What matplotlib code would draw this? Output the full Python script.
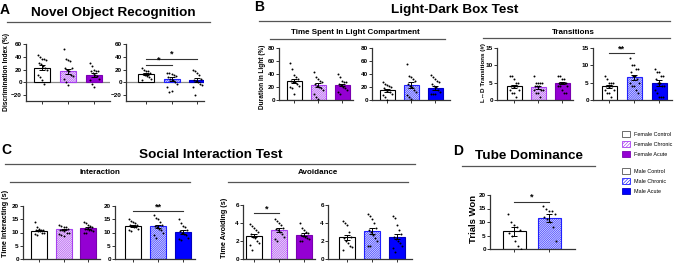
import numpy as np
import matplotlib
matplotlib.use("Agg")
import matplotlib.pyplot as plt
from matplotlib.patches import Patch
from matplotlib.lines import Line2D

plt.rcParams['font.family'] = ['Liberation Sans', 'DejaVu Sans']
plt.rcParams['hatch.linewidth'] = 0.45

W, H = 676, 264
HATCH = '/' * 18

# group styles
female_styles = [('white', 'black', None), ('white', '#a83ff0', HATCH), ('#9400d3', '#7a00b0', None)]
male_styles = [('white', 'black', None), ('white', '#2020ff', HATCH), ('#0000ff', '#0000c0', None)]
female_labels = ['Female Control', 'Female Chronic', 'Female Acute']
male_labels = ['Male Control', 'Male Chronic', 'Male Acute']

# A - Novel Object Recognition (discrimination index, %)
nor_f_mean = [23, 17, 11]
nor_f_sem = [4, 4, 3]
nor_f_pts = [[43, 40, 37, 36, 35, 30, 28, 25, 22, 20, 12, 8, 3, -3],
             [52, 37, 35, 33, 22, 22, 20, 18, 12, 10, 5, 0, -5],
             [30, 25, 20, 18, 18, 17, 15, 12, 10, 5, 3, -3, -8]]
nor_m_mean = [13, 5, 3]
nor_m_sem = [2, 3, 3]
nor_m_pts = [[22, 20, 18, 17, 15, 13, 12, 10, 8, 5, 4],
             [15, 14, 13, 12, 10, 8, 5, 3, 0, -3, -8, -15, -13],
             [20, 17, 15, 12, 5, 3, 2, 0, -2, -5, -8, -20]]

# B - Light-Dark box, duration in light (%)
ldb_f_mean = [29, 23, 23]
ldb_f_sem = [3, 3, 2]
ldb_f_pts = [[57, 47, 38, 35, 33, 30, 28, 27, 25, 22, 20, 18, 10],
             [43, 35, 33, 30, 28, 25, 22, 20, 18, 15, 10, 5, 2],
             [40, 35, 30, 28, 27, 25, 23, 20, 18, 15, 12, 10]]
ldb_m_mean = [15, 23, 19]
ldb_m_sem = [2, 4, 3]
ldb_m_pts = [[27, 25, 23, 22, 20, 18, 16, 15, 13, 10, 8, 5, 0],
             [55, 37, 35, 33, 30, 25, 22, 20, 15, 12, 8, 5, 2],
             [38, 35, 32, 30, 27, 25, 22, 20, 15, 13, 10, 10, 10]]

# B - Light-Dark box, transitions (#)
tr_f_mean = [3.9, 3.7, 4.9]
tr_f_sem = [0.5, 0.4, 0.4]
tr_f_pts = [[7, 7, 6, 5, 5, 4, 4, 4, 4, 3, 3, 2, 2, 1],
            [7, 5, 5, 5, 5, 4, 4, 4, 3, 3, 3, 2, 2, 1],
            [7, 7, 6, 6, 5, 5, 5, 5, 5, 4, 4, 4, 3, 2, 2]]
tr_m_mean = [3.9, 6.6, 4.9]
tr_m_sem = [0.5, 0.7, 0.8]
tr_m_pts = [[7, 6, 5, 5, 5, 4, 4, 4, 4, 3, 3, 2, 2, 1],
            [12, 10, 10, 9, 9, 8, 7, 7, 6, 5, 5, 4, 4, 3, 2],
            [9, 8, 8, 7, 7, 6, 5, 5, 4, 4, 3, 2, 1, 1, 1]]

# C - Social interaction, time interacting (s)
int_f_mean = [10.7, 11.2, 11.6]
int_f_sem = [0.3, 0.3, 0.3]
int_f_pts = [[14, 12, 11.5, 11, 11, 10.8, 10.5, 10.5, 10, 10, 9.5, 9],
             [13, 12.5, 12, 12, 11.5, 11, 11, 10.5, 10, 10, 9.5, 9, 8.5],
             [14, 13.5, 13, 12.5, 12, 11.5, 11.5, 11, 11, 10.5, 10, 10]]
int_m_mean = [12.6, 12.3, 10.2]
int_m_sem = [0.4, 0.6, 0.6]
int_m_pts = [[15, 14.5, 14, 13.5, 13, 13, 12.5, 12, 12, 11.5, 11, 10.5],
             [16.5, 15.5, 15, 14, 13, 12.5, 12, 11.5, 11, 10, 9, 8],
             [15, 13.5, 12.5, 12, 11, 10.5, 10, 9.5, 9, 8, 7.5, 7]]

# C - Social interaction, time avoiding (s)
av_f_mean = [2.6, 3.2, 2.7]
av_f_sem = [0.2, 0.2, 0.15]
av_f_pts = [[3.9, 3.7, 3.5, 3.2, 3.0, 2.8, 2.5, 2.3, 2.0, 1.8, 1.6, 1.0],
            [4.5, 4.2, 4.0, 3.8, 3.5, 3.3, 3.2, 3.0, 2.8, 2.5, 2.2, 2.0],
            [4.0, 3.5, 3.2, 3.0, 2.9, 2.7, 2.6, 2.5, 2.3, 2.2, 2.0, 2.0]]
av_m_mean = [2.4, 3.1, 2.5]
av_m_sem = [0.3, 0.3, 0.3]
av_m_pts = [[4.2, 4.0, 3.8, 3.0, 2.5, 2.3, 2.0, 1.8, 1.5, 1.3, 1.0],
            [5.0, 4.8, 4.5, 4.0, 3.5, 3.2, 3.0, 2.7, 2.3, 2.0, 1.5, 1.4],
            [4.8, 4.6, 3.8, 3.2, 2.8, 2.5, 2.2, 2.0, 1.8, 1.5, 1.2, 0.8]]

# D - Tube dominance, trials won
td_mean = [6.5, 11.5]
td_sem = [1.5, 1.6]
td_pts = [[13, 10, 9, 8, 7, 6, 5, 3, 1, 0],
          [16, 15, 14, 14, 13, 12, 11, 10, 8, 3]]

fig = plt.figure(figsize=(W / 100, H / 100), dpi=100)


def px_axes(left, right, top, bottom):
    return fig.add_axes([left / W, 1 - bottom / H, (right - left) / W, (bottom - top) / H])


def fig_text(x, y, s, **kw):
    fig.text(x / W, 1 - y / H, s, **kw)


def fig_line(x0, x1, y, color='#555555', lw=0.9):
    fig.add_artist(Line2D([x0 / W, x1 / W], [1 - y / H, 1 - y / H], color=color, lw=lw))


def bar_panel(box, first_bar, spacing, means, sems, pts, styles, ylim, yticks,
              bar_px=16, zero_line=False, sig=None):
    left, right, top, bottom = box
    ax = px_axes(left, right, top, bottom)
    n = len(means)
    x = np.arange(n)
    width = bar_px / spacing
    for i in range(n):
        fc, ec, hatch = styles[i]
        ax.bar(x[i], means[i], width=width, color=fc, edgecolor=ec, hatch=hatch,
               linewidth=0.8, zorder=2)
        ax.errorbar(x[i], means[i], yerr=sems[i], color='black', capsize=2.5,
                    elinewidth=0.7, capthick=0.7, zorder=4)
        vals = np.array(pts[i], dtype=float)
        k = np.arange(len(vals))
        offs = ((k % 5) - 2) * 0.085 + ((k // 5) % 2) * 0.04
        ax.scatter(x[i] + offs, vals, s=2.0, color='black', zorder=5, linewidths=0)
    if zero_line:
        ax.axhline(0, color='#888888', lw=0.9, zorder=1)
    ax.set_xlim(-(first_bar - left) / spacing, (right - first_bar) / spacing)
    ax.set_ylim(*ylim)
    ax.set_yticks(yticks)
    ax.set_xticks(x)
    ax.set_xticklabels([])
    for s in ['top', 'right']:
        ax.spines[s].set_visible(False)
    for s in ['left', 'bottom']:
        ax.spines[s].set_linewidth(0.9)
        ax.spines[s].set_color('#333333')
    ax.tick_params(axis='both', length=2, width=0.7, pad=1, labelsize=4.6, colors='#333333')
    for lab in ax.get_yticklabels():
        lab.set_fontweight('bold')
        lab.set_color('black')
    if sig:
        for (i0, i1, yv, txt) in sig:
            ax.plot([i0, i1], [yv, yv], color='#333333', lw=0.8, clip_on=False)
            ax.text((i0 + i1) / 2, yv, txt, ha='center', va='bottom', fontsize=6.5,
                    fontweight='bold')
    return ax


# ---- Panel A ----
fig_text(4.5, 10, 'A', fontsize=10, fontweight='bold', ha='center', va='center')
fig_text(113, 13, 'Novel Object Recognition', fontsize=9.7, fontweight='bold', ha='center', va='center')
fig_line(7, 210, 21.7)
bar_panel((26, 110, 44, 101.4), 42, 26, nor_f_mean, nor_f_sem, nor_f_pts, female_styles,
          (-30, 60), [-20, 0, 20, 40, 60], zero_line=True)
bar_panel((126, 204, 44, 101.4), 146, 25.5, nor_m_mean, nor_m_sem, nor_m_pts, male_styles,
          (-30, 60), [-20, 0, 20, 40, 60], zero_line=True,
          sig=[(0, 1, 27, '*'), (0, 2, 37, '*')])
fig_text(6.5, 72, 'Discrimination Index (%)', fontsize=4.8, fontweight='bold', rotation=90,
         ha='center', va='center')

# ---- Panel B ----
fig_text(259, 7, 'B', fontsize=10, fontweight='bold', ha='center', va='center')
fig_text(455, 10.5, 'Light-Dark Box Test', fontsize=9.7, fontweight='bold', ha='center', va='center')
fig_line(259, 670, 21)
fig_text(355, 32, 'Time Spent In Light Compartment', fontsize=5.8, fontweight='bold', ha='center', va='center')
fig_line(270, 445, 39.3)
fig_text(573, 32, 'Transitions', fontsize=5.8, fontweight='bold', ha='center', va='center')
fig_line(483, 670, 38.3)
bar_panel((279, 353, 48, 100), 294, 24, ldb_f_mean, ldb_f_sem, ldb_f_pts, female_styles,
          (0, 80), [0, 20, 40, 60, 80], bar_px=15)
bar_panel((372, 450, 48, 100), 387, 24, ldb_m_mean, ldb_m_sem, ldb_m_pts, male_styles,
          (0, 80), [0, 20, 40, 60, 80], bar_px=15)
fig_text(262, 77, 'Duration in Light (%)', fontsize=4.7, fontweight='bold', rotation=90,
         ha='center', va='center')
bar_panel((497, 573, 48, 100), 514, 24, tr_f_mean, tr_f_sem, tr_f_pts, female_styles,
          (0, 15), [0, 5, 10, 15], bar_px=15)
bar_panel((593, 672, 48, 100), 609, 25, tr_m_mean, tr_m_sem, tr_m_pts, male_styles,
          (0, 15), [0, 5, 10, 15], bar_px=15, sig=[(0, 1, 13.5, '**')])
fig_text(483, 73, 'L\u2194D Transitions (#)', fontsize=4.5, fontweight='bold', rotation=90,
         ha='center', va='center')

# ---- Panel C ----
fig_text(6, 150, 'C', fontsize=10, fontweight='bold', ha='center', va='center')
fig_text(211, 155, 'Social Interaction Test', fontsize=9.7, fontweight='bold', ha='center', va='center')
fig_line(5, 415, 164.3)
fig_text(100, 173, 'Interaction', fontsize=5.8, fontweight='bold', ha='center', va='center')
fig_line(10, 190, 181.7)
fig_text(318, 173, 'Avoidance', fontsize=5.8, fontweight='bold', ha='center', va='center')
fig_line(228, 408, 181.7)
bar_panel((23, 100, 206, 259), 39, 24.5, int_f_mean, int_f_sem, int_f_pts, female_styles,
          (0, 20), [0, 5, 10, 15, 20], bar_px=16)
bar_panel((115, 195, 206, 259), 133, 25, int_m_mean, int_m_sem, int_m_pts, male_styles,
          (0, 20), [0, 5, 10, 15, 20], bar_px=16, sig=[(0, 2, 18, '**')])
fig_text(5.5, 223, 'Time Interacting (s)', fontsize=5.2, fontweight='bold', rotation=90,
         ha='center', va='center')
bar_panel((243, 315, 205, 259), 254, 25, av_f_mean, av_f_sem, av_f_pts, female_styles,
          (0, 6), [0, 2, 4, 6], bar_px=16, sig=[(0, 1, 5.1, '*')])
bar_panel((328, 412, 205, 259), 347, 25, av_m_mean, av_m_sem, av_m_pts, male_styles,
          (0, 6), [0, 2, 4, 6], bar_px=16)
fig_text(224, 228, 'Time Avoiding (s)', fontsize=5.2, fontweight='bold', rotation=90,
         ha='center', va='center')

# ---- Panel D ----
fig_text(458, 151, 'D', fontsize=10, fontweight='bold', ha='center', va='center')
fig_text(529, 156, 'Tube Dominance', fontsize=9.7, fontweight='bold', ha='center', va='center')
fig_line(462, 595, 165.7)
bar_panel((490, 575, 195, 249), 514, 35, td_mean, td_sem, td_pts,
          [male_styles[0], male_styles[1]], (0, 20), [0, 5, 10, 15, 20], bar_px=23,
          sig=[(0, 1, 17.5, '*')])
fig_text(474, 219, 'Trials Won', fontsize=6.8, fontweight='bold', rotation=90,
         ha='center', va='center')

# ---- Legend ----
def legend_block(labels, styles, top_px):
    handles = [Patch(facecolor=fc, edgecolor=('#555555' if fc == 'white' and h is None else ec),
                     hatch=(h[:10] if h else None), linewidth=0.6) for (fc, ec, h) in styles]
    leg = fig.legend(handles, labels, loc='upper left', bbox_to_anchor=(622 / W, 1 - top_px / H),
                     frameon=False, fontsize=3.9, handlelength=1.5, handleheight=1.35,
                     labelspacing=0.75, handletextpad=0.7, borderpad=0, borderaxespad=0)
    return leg

legend_block(female_labels, female_styles, 131)
legend_block(male_labels, male_styles, 168)

fig.savefig('out.png', dpi=100)
